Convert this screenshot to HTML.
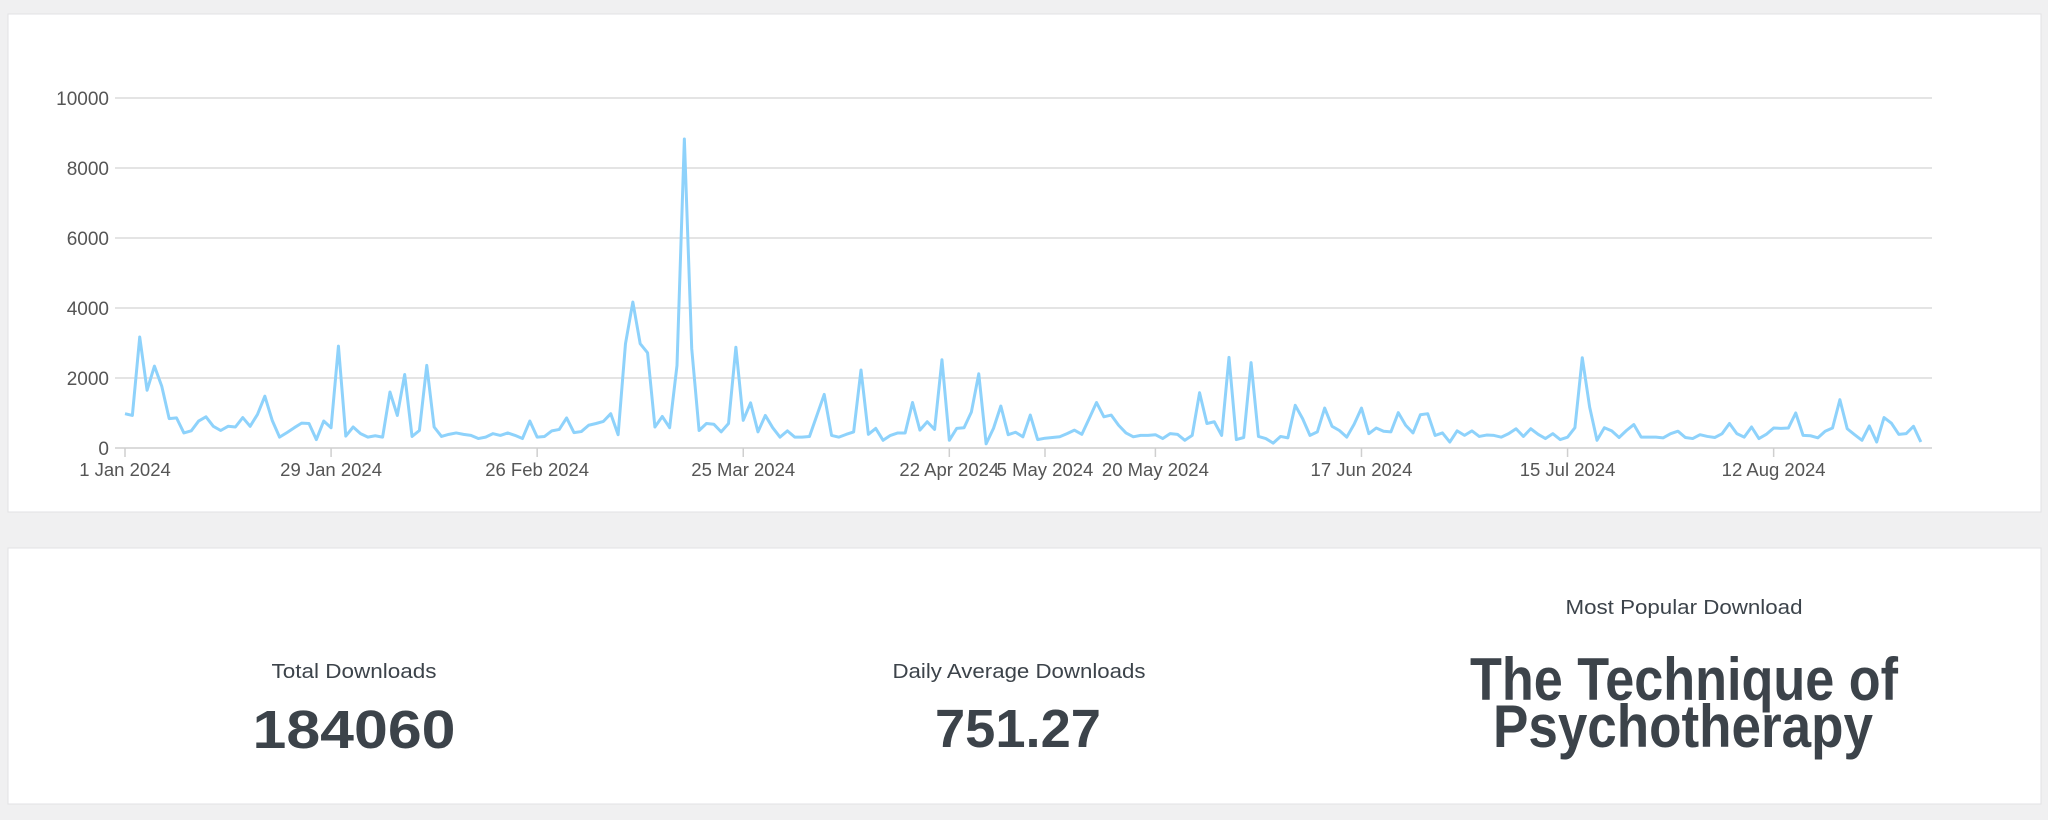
<!DOCTYPE html>
<html><head><meta charset="utf-8">
<style>
html,body{margin:0;padding:0;background:#f0f0f1;width:2048px;height:820px;overflow:hidden;font-family:"Liberation Sans",sans-serif;}
svg{display:block}
</style></head>
<body>
<svg id="root" width="2048" height="820" viewBox="0 0 2048 820" xmlns="http://www.w3.org/2000/svg">
  <rect x="8" y="14" width="2033" height="498" fill="#fff" stroke="#e2e2e4" stroke-width="1"/>
  <rect x="8" y="548" width="2033" height="256" fill="#fff" stroke="#e2e2e4" stroke-width="1"/>
  <g id="grid"></g>
  <g id="yaxis"></g>
  <g id="xaxis"></g>
  <path id="line" fill="none" stroke="#8ed2fb" stroke-width="3" stroke-linejoin="round"/>

  <g fill="#3c434a" text-anchor="middle" font-family="Liberation Sans, sans-serif">
    <text x="354" y="678" font-size="20" textLength="165" lengthAdjust="spacingAndGlyphs">Total Downloads</text>
    <text x="354" y="748" font-size="54" font-weight="bold" textLength="203" lengthAdjust="spacingAndGlyphs">184060</text>
    <text x="1019" y="678" font-size="20" textLength="253" lengthAdjust="spacingAndGlyphs">Daily Average Downloads</text>
    <text x="1018" y="747" font-size="54" font-weight="bold" textLength="166" lengthAdjust="spacingAndGlyphs">751.27</text>
    <text x="1684" y="614" font-size="20" textLength="237" lengthAdjust="spacingAndGlyphs">Most Popular Download</text>
    <text x="1684" y="700" font-size="60" font-weight="bold" textLength="428" lengthAdjust="spacingAndGlyphs">The Technique of</text>
    <text x="1683" y="747" font-size="60" font-weight="bold" textLength="380" lengthAdjust="spacingAndGlyphs">Psychotherapy</text>
  </g>
</svg>
<script>
const values = [980,930,3170,1650,2340,1760,840,860,430,490,770,890,620,500,620,600,870,620,960,1480,790,310,440,580,710,700,240,770,580,2910,340,600,410,310,350,310,1600,930,2100,330,500,2360,600,330,390,430,390,360,270,310,
410,360,430,360,270,770,310,330,490,530,860,440,470,650,700,760,980,380,2980,4170,2980,2720,600,900,580,2360,8830,2840,500,700,680,460,700,2880,790,1290,460,930,580,310,490,310,310,330,930,1530,360,310,390,460,
2230,390,560,220,360,430,430,1300,510,750,530,2520,220,560,580,1030,2120,120,560,1200,380,450,320,940,240,280,300,320,410,510,390,840,1300,890,940,650,430,320,360,360,380,270,410,390,220,360,1580,700,750,360,
2590,240,300,2440,330,270,140,330,290,1220,840,360,460,1140,620,500,310,680,1140,410,570,480,460,1010,650,430,950,980,360,430,170,490,360,490,330,370,360,310,410,550,330,550,390,270,410,240,310,580,2580,1170,
220,580,490,300,500,670,310,310,310,290,410,480,300,270,380,330,300,410,700,410,310,600,270,390,570,560,570,1000,360,350,290,480,570,1380,550,380,220,630,170,870,710,390,410,620,170];
const yTicks = [0,2000,4000,6000,8000,10000];
const xTickDays = [0,28,56,84,112,125,140,168,196,224];
const xTickLabels = ["1 Jan 2024","29 Jan 2024","26 Feb 2024","25 Mar 2024","22 Apr 2024","5 May 2024","20 May 2024","17 Jun 2024","15 Jul 2024","12 Aug 2024"];

const X0=125, DAY=7.36, Y0=448, YMAX=10000, PLOT_H=350, GRID_L=115, GRID_R=1932;
const xs = d => X0 + d*DAY;
const ys = v => Y0 - v/YMAX*PLOT_H;
const NS="http://www.w3.org/2000/svg";
const grid=document.getElementById('grid'), yaxis=document.getElementById('yaxis'), xaxis=document.getElementById('xaxis');

yTicks.forEach(t=>{
  const l=document.createElementNS(NS,'line');
  l.setAttribute('x1',GRID_L);l.setAttribute('x2',GRID_R);
  l.setAttribute('y1',ys(t));l.setAttribute('y2',ys(t));
  l.setAttribute('stroke', t===0?'#cfcfcf':'#dcdcdc');l.setAttribute('stroke-width','1.5');
  
  
  grid.appendChild(l);
  const tx=document.createElementNS(NS,'text');
  tx.setAttribute('x',109);tx.setAttribute('y',ys(t)+7);
  tx.setAttribute('text-anchor','end');tx.setAttribute('font-size','19');tx.setAttribute('fill','#555');
  tx.textContent=String(t);
  
  
  yaxis.appendChild(tx);
});

xTickDays.forEach((d,i)=>{
  const l=document.createElementNS(NS,'line');
  l.setAttribute('x1',xs(d));l.setAttribute('x2',xs(d));
  l.setAttribute('y1',Y0);l.setAttribute('y2',Y0+9);
  l.setAttribute('stroke','#cfcfcf');l.setAttribute('stroke-width','1.5');
  
  
  xaxis.appendChild(l);
  const tx=document.createElementNS(NS,'text');
  tx.setAttribute('x',xs(d));tx.setAttribute('y',476);
  tx.setAttribute('text-anchor','middle');tx.setAttribute('font-size','18.5');tx.setAttribute('fill','#555');
  tx.textContent=xTickLabels[i];
  
  
  xaxis.appendChild(tx);
});

document.getElementById('line').setAttribute('d', values.map((v,i)=>(i?'L':'M')+xs(i).toFixed(2)+' '+ys(v).toFixed(2)).join(' '));
</script>
</body></html>
